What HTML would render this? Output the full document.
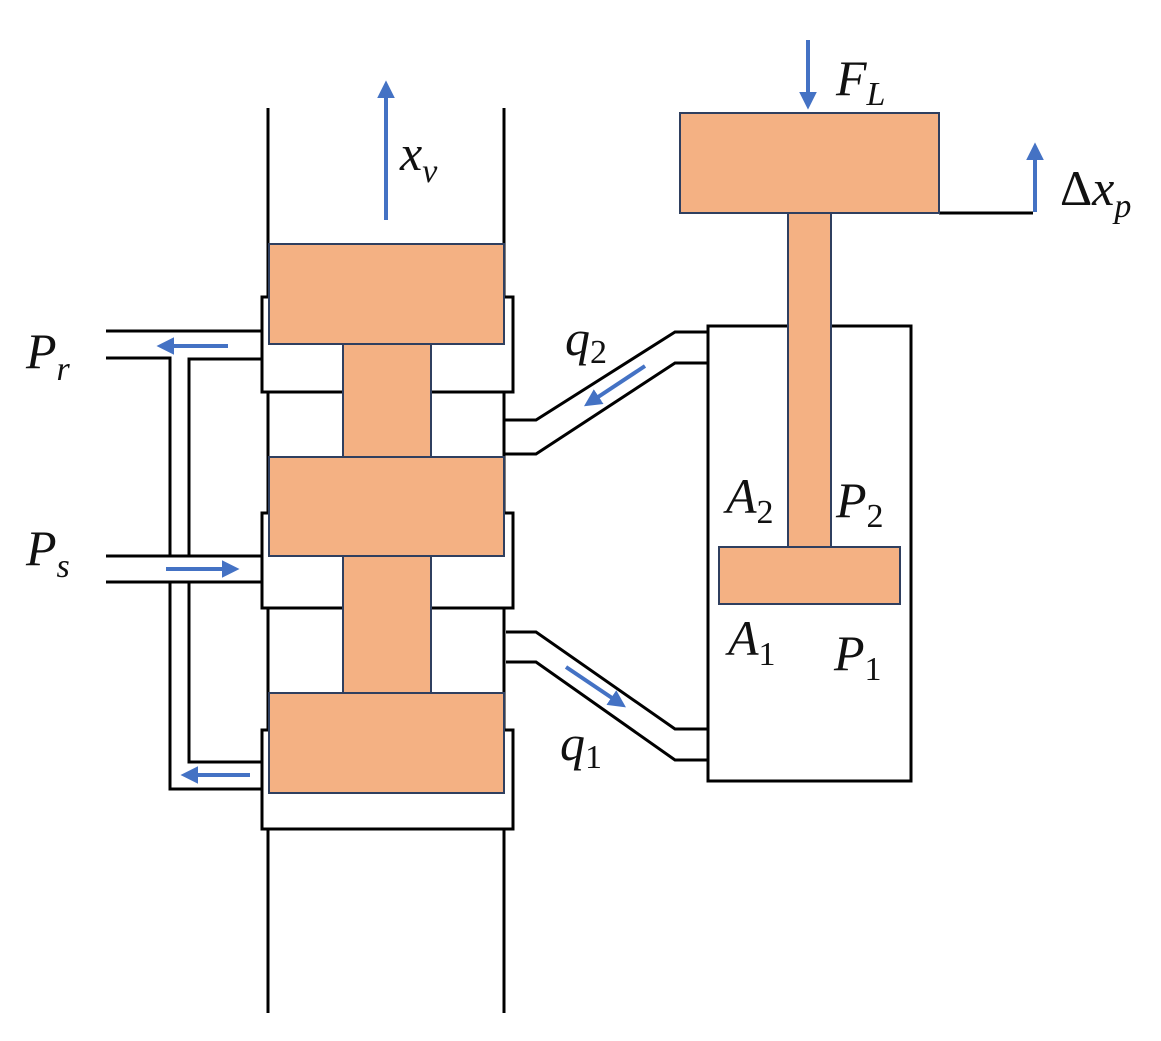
<!DOCTYPE html>
<html><head><meta charset="utf-8"><style>
html,body{margin:0;padding:0;background:#fff}
svg{display:block}
text{font-family:"Liberation Serif",serif;font-style:italic;fill:#111}
.s{font-style:normal}
</style></head><body>
<svg width="1161" height="1041" viewBox="0 0 1161 1041" xmlns="http://www.w3.org/2000/svg">
<defs>
<marker id="ah" markerWidth="4.4" markerHeight="4.4" refX="2" refY="2.2" orient="auto" markerUnits="strokeWidth">
<path d="M0,0 L4.4,2.2 L0,4.4 z" fill="#4472C4"/></marker>
</defs>
<g stroke="#000" stroke-width="3" fill="none">
<rect x="262" y="297" width="251" height="95" fill="#fff"/>
<rect x="262" y="513" width="251" height="95" fill="#fff"/>
<rect x="262" y="730" width="251" height="99" fill="#fff"/>
<line x1="268" y1="108" x2="268" y2="297"/><line x1="504" y1="108" x2="504" y2="297"/>
<line x1="268" y1="392" x2="268" y2="513"/><line x1="504" y1="392" x2="504" y2="513"/>
<line x1="268" y1="608" x2="268" y2="730"/><line x1="504" y1="608" x2="504" y2="730"/>
<line x1="268" y1="829" x2="268" y2="1013"/><line x1="504" y1="829" x2="504" y2="1013"/>
<line x1="106" y1="331" x2="262" y2="331"/>
<polyline points="106,358 170,358 170,556"/>
<polyline points="262,359 189,359 189,556"/>
<line x1="106" y1="556" x2="262" y2="556"/>
<line x1="106" y1="582" x2="262" y2="582"/>
<polyline points="189,582 189,762 262,762"/>
<polyline points="170,582 170,789 262,789"/>
<polyline points="504,420 536,420 675,332 708,332"/>
<polyline points="504,454 536,454 675,363 708,363"/>
<polyline points="506,632 536,632 675,729 708,729"/>
<polyline points="506,662 536,662 675,760 708,760"/>
<rect x="708" y="326" width="203" height="455" fill="#fff"/>
<line x1="939" y1="213" x2="1033" y2="213"/>
</g>
<g fill="#F4B183" stroke="#2F3F5F" stroke-width="2">
<rect x="343" y="344" width="88" height="113"/>
<rect x="343" y="556" width="88" height="137"/>
<rect x="269" y="244" width="235" height="100"/>
<rect x="269" y="457" width="235" height="99"/>
<rect x="269" y="693" width="235" height="100"/>
<rect x="788" y="213" width="43" height="334"/>
<rect x="719" y="547" width="181" height="57"/>
<rect x="680" y="113" width="259" height="100"/>
</g>
<g stroke="#4472C4" stroke-width="4" fill="none" marker-end="url(#ah)">
<line x1="386" y1="220" x2="386" y2="90"/>
<line x1="808" y1="40" x2="808" y2="100"/>
<line x1="1035" y1="212" x2="1035" y2="152"/>
<line x1="228" y1="346" x2="166" y2="346"/>
<line x1="166" y1="569" x2="230" y2="569"/>
<line x1="250" y1="775" x2="190" y2="775"/>
<line x1="645" y1="366" x2="592" y2="401"/>
<line x1="566" y1="667" x2="618" y2="702"/>
</g>
<g font-size="50">
<text x="400" y="170">x<tspan font-size="34" dy="12">v</tspan></text>
<text x="836" y="95">F<tspan font-size="34" dy="10">L</tspan></text>
<text x="1060" y="205" class="s">Δ<tspan style="font-style:italic">x</tspan><tspan font-size="34" dy="12" style="font-style:italic">p</tspan></text>
<text x="26" y="368">P<tspan font-size="34" dy="12">r</tspan></text>
<text x="26" y="565">P<tspan font-size="34" dy="12">s</tspan></text>
<text x="565" y="355">q<tspan font-size="34" dy="8" class="s">2</tspan></text>
<text x="560" y="760">q<tspan font-size="34" dy="8" class="s">1</tspan></text>
<text x="726" y="513">A<tspan font-size="34" dy="10" class="s">2</tspan></text>
<text x="836" y="517">P<tspan font-size="34" dy="10" class="s">2</tspan></text>
<text x="728" y="655">A<tspan font-size="34" dy="10" class="s">1</tspan></text>
<text x="834" y="670">P<tspan font-size="34" dy="10" class="s">1</tspan></text>
</g>
</svg>
</body></html>
